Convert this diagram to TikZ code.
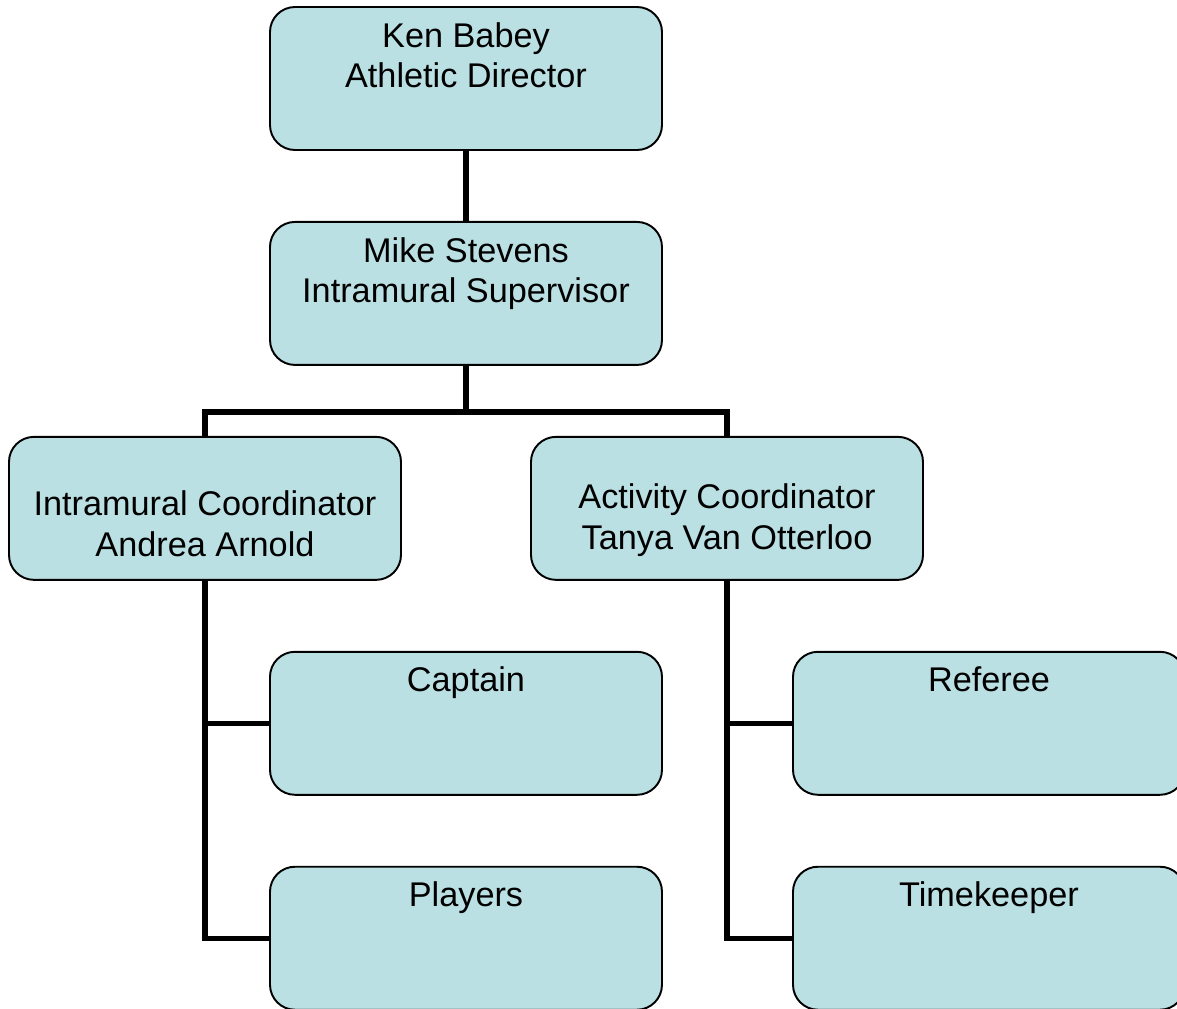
\documentclass[tikz,border=0pt]{standalone}
\usepackage{fontspec}
\setmainfont{Liberation Sans}
\usetikzlibrary{positioning}

\definecolor{boxblue}{HTML}{BAE0E3}

\begin{document}
\begin{tikzpicture}[node distance=1.40cm, thick,
    orgbox/.style={draw, line width=1.1pt, rounded corners=0.5cm, fill=boxblue,
        minimum width=7.84cm, inner ysep=0pt, align=center,
        font=\fontsize{19.5}{23}\selectfont, text height=0.8cm, text depth=2.06cm},
    link/.style={line width=3.1pt}]
    \useasboundingbox (-9.32,1.57) rectangle (14.22,-18.61);

    % Boxes
    \node[orgbox, text height=1.61cm, text depth=1.25cm] (ken) {Ken Babey\\Athletic Director};
    \node[orgbox, text height=1.61cm, text depth=1.25cm] (mike) [below=of ken] {Mike Stevens\\Intramural Supervisor};
    \node[orgbox, text height=2.39cm, text depth=0.47cm] (intra) [below=of mike, xshift=-5.22cm] {Intramural Coordinator\\Andrea Arnold};
    \node[orgbox, text height=2.25cm, text depth=0.61cm] (activity) [below=of mike, xshift=5.22cm] {Activity Coordinator\\Tanya Van Otterloo};
    \node[orgbox] (captain) [below=of intra, xshift=5.22cm] {Captain};
    \node[orgbox] (players) [below=of captain] {Players};
    \node[orgbox] (referee) [below=of activity, xshift=5.24cm] {Referee};
    \node[orgbox] (timekeeper) [below=of referee] {Timekeeper};

    % Connectors
    \draw[link] (ken) -- (mike);
    \draw[link] (mike.south) -- ++(0,-0.92) coordinate (split);
    \draw[link] (split) -| (intra.north);
    \draw[link] (split) -| (activity.north);
    \draw[link] (intra.south) |- (captain.west);
    \draw[link] (intra.south) |- (players.west);
    \draw[link] (activity.south) |- (referee.west);
    \draw[link] (activity.south) |- (timekeeper.west);
\end{tikzpicture}
\end{document}
